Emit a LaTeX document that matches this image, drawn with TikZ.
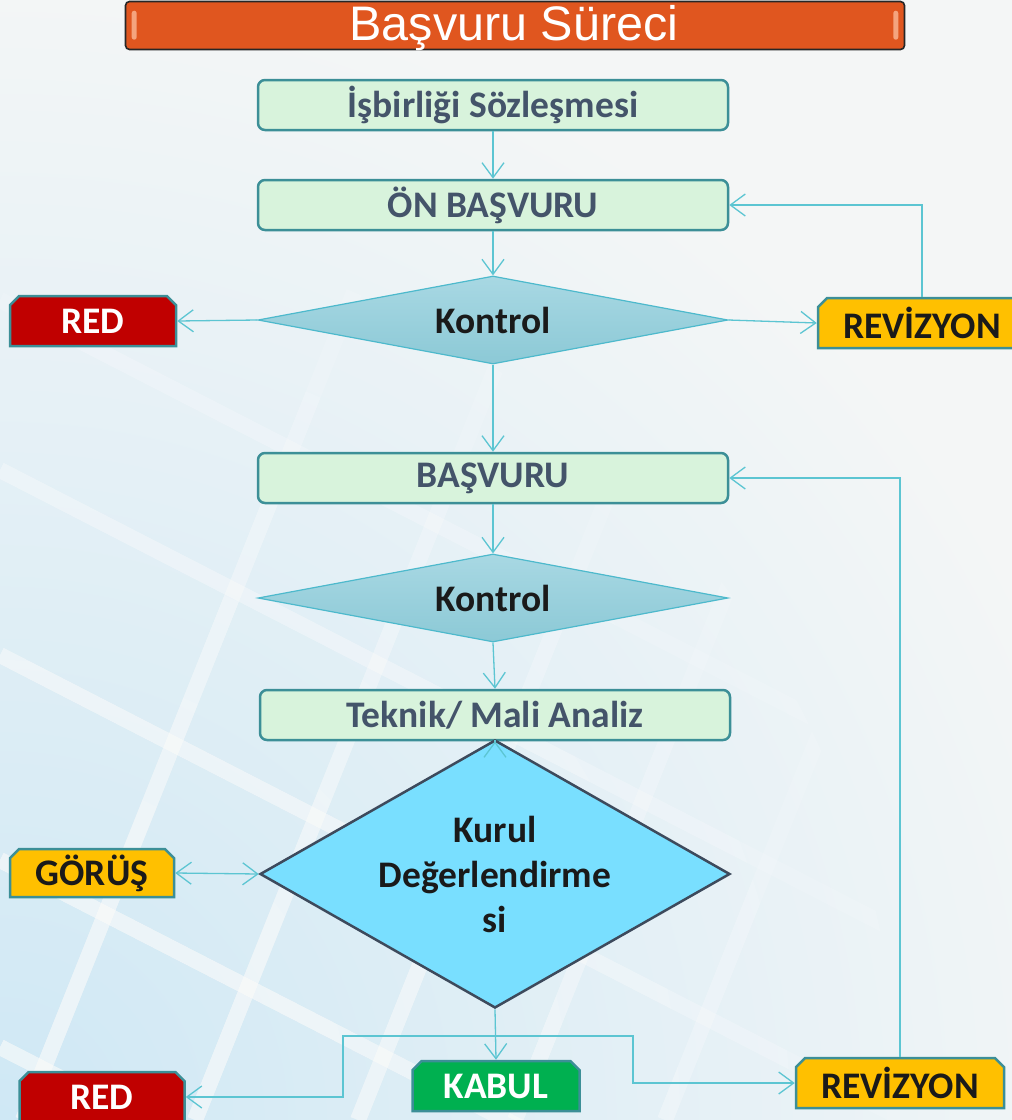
\documentclass[tikz,border=0pt]{standalone}
\usepackage{fontspec}
\setmainfont{Carlito}
\newfontfamily\titlefont{Liberation Sans}
\usetikzlibrary{arrows.meta,shapes.geometric,shapes.misc,calc}
\definecolor{bgc}{HTML}{F4F6F6}
\definecolor{bgblue}{HTML}{CFE8F5}
\definecolor{titleor}{HTML}{E0561F}
\definecolor{titlehi}{HTML}{F4A47E}
\definecolor{boxfill}{HTML}{D8F3DC}
\definecolor{boxline}{HTML}{3C8F97}
\definecolor{boxtext}{HTML}{44546A}
\definecolor{conncol}{HTML}{5CC5D2}
\definecolor{kontop}{HTML}{A8D8E3}
\definecolor{konbot}{HTML}{8CC9D6}
\definecolor{konline}{HTML}{4DB9CC}
\definecolor{kurulfill}{HTML}{79DFFF}
\definecolor{kurulline}{HTML}{3D4A5C}
\definecolor{redfill}{HTML}{C00000}
\definecolor{yelfill}{HTML}{FFC000}
\definecolor{grnfill}{HTML}{00B050}
\definecolor{darktext}{HTML}{1A1A1A}
\tikzset{
  bigfont/.style={font=\bfseries\fontsize{37.5}{45}\selectfont},
  procbox/.style={rectangle, rounded corners=7pt, draw=boxline, line width=2.5pt,
    fill=boxfill, minimum width=470pt, minimum height=50pt, inner sep=0pt,
    text=boxtext, bigfont},
  decbox/.style={chamfered rectangle, chamfered rectangle corners={north west,north east},
    chamfered rectangle xsep=6pt, draw=boxline, line width=2.5pt,
    minimum height=50pt, inner sep=0pt, bigfont},
  redbox/.style={decbox, fill=redfill, text=white},
  yelbox/.style={decbox, fill=yelfill, text=darktext},
  grnbox/.style={decbox, fill=grnfill, text=white},
  kontrolshape/.style={diamond, minimum width=470pt, minimum height=88pt, inner sep=0pt,
    top color=kontop, bottom color=konbot, draw=konline, line width=1.2pt},
  kurulshape/.style={diamond, minimum width=470pt, minimum height=268pt, inner sep=0pt,
    fill=kurulfill, draw=kurulline, line width=2.5pt},
  dtext/.style={text=darktext, bigfont, align=center},
  conn/.style={draw=conncol, line width=1.3pt, -{Straight Barb[length=15pt,width=22pt]}},
  connboth/.style={draw=conncol, line width=1.3pt, {Straight Barb[length=15pt,width=22pt]}-{Straight Barb[length=15pt,width=22pt]}},
  stripe/.style={line width=16pt, white, opacity=0.14}
}
\begin{document}
\begin{tikzpicture}[x=1pt,y=-1pt]
\useasboundingbox (0,0) rectangle (1012,1120);
\clip (0,0) rectangle (1012,1120);
% background
\fill[bgc] (0,0) rectangle (1012,1120);
\shade[inner color=bgblue, outer color=bgc] (0,1120) circle (1150);
\foreach \r in {900,790,680,570,460,350} {
  \begin{scope}
    \clip (0,1120) circle (\r);
    \begin{scope}[stripe]
      \foreach \x in {23,195,358,515,665} { \draw (\x,1120) -- ++(480,-1200); }
      \foreach \c in {300,470,655,860,1047} { \draw (0,\c) -- ++(1012,520); }
    \end{scope}
  \end{scope}
}
% title
\node[rectangle, rounded corners=4pt, fill=titleor, draw=black!85, line width=1.6pt,
  minimum width=779pt, minimum height=48pt, inner sep=0pt] (title) at (515,25.5) {};
\node[text=white, font=\titlefont\fontsize{48.5}{48.5}\selectfont, inner sep=0pt,
  anchor=base] (titletext) at (514,40) {Başvuru Süreci};
\fill[titlehi, rounded corners=2.5pt] ([xshift=7pt,yshift=-10pt]title.north west) rectangle ++(5pt,-29pt);
\fill[titlehi, rounded corners=2.5pt] ([xshift=-12pt,yshift=-10pt]title.north east) rectangle ++(5pt,-29pt);
% process boxes
\node[procbox] (isb) at (493,105) {İşbirliği Sözleşmesi};
\node[procbox] (onb) at (493,205) {ÖN BAŞVURU};
\node[procbox] (bas) at (493,478) {BAŞVURU};
\node[procbox] (tek) at (495,715) {Teknik/ Mali Analiz};
% diamonds
\node[kontrolshape] (k1) at (493,320) {};
\node[dtext] (k1t) at (k1) {Kontrol};
\node[kontrolshape] (k2) at (493,598) {};
\node[dtext] (k2t) at (k2) {Kontrol};
\node[kurulshape] (kurul) at (495,874) {};
\node[dtext] (kurult) at (kurul) {Kurul\\Değerlendirme\\si};
% decision boxes
\node[redbox, minimum width=166pt] (red1) at (93,321) {RED};
\node[yelbox, minimum width=208pt] (rev1) at (922,323) {REVİZYON};
\node[yelbox, minimum width=164pt, minimum height=48pt] (gorus) at (92,873) {GÖRÜŞ};
\node[redbox, minimum width=165pt] (red2) at (102,1097) {RED};
\node[grnbox, minimum width=167pt] (kabul) at (496,1086) {KABUL};
\node[yelbox, minimum width=208pt] (rev2) at (900,1083) {REVİZYON};
% connectors
\draw[conn] (isb) -- (onb);
\draw[conn] (onb) -- (k1);
\draw[conn] (k1.west) -- (red1.east);
\draw[conn] (k1.east) -- (rev1.west);
\draw[conn] (rev1.north) |- (onb.east);
\draw[conn] (k1.south) -- (bas.north);
\draw[conn] (bas) -- (k2);
\draw[conn] (k2.south) -- (tek.north);
\coordinate (kt) at ([yshift=-16pt]kurul.north);
\draw[conn, shorten <=15pt] (kt) -- (tek.south);
\draw[connboth] (gorus.east) -- (kurul.west);
\draw[conn] (kurul.south) -- (kabul.north);
\coordinate (j) at (kurul.south |- 0,1036);
\coordinate (bl) at (343,1036);
\coordinate (br) at (633,1036);
\draw[conn] (j) -- (bl) |- (red2.east);
\draw[conn] (j) -- (br) |- (rev2.west);
\draw[conn] (rev2.north) |- (bas.east);
\end{tikzpicture}
\end{document}
